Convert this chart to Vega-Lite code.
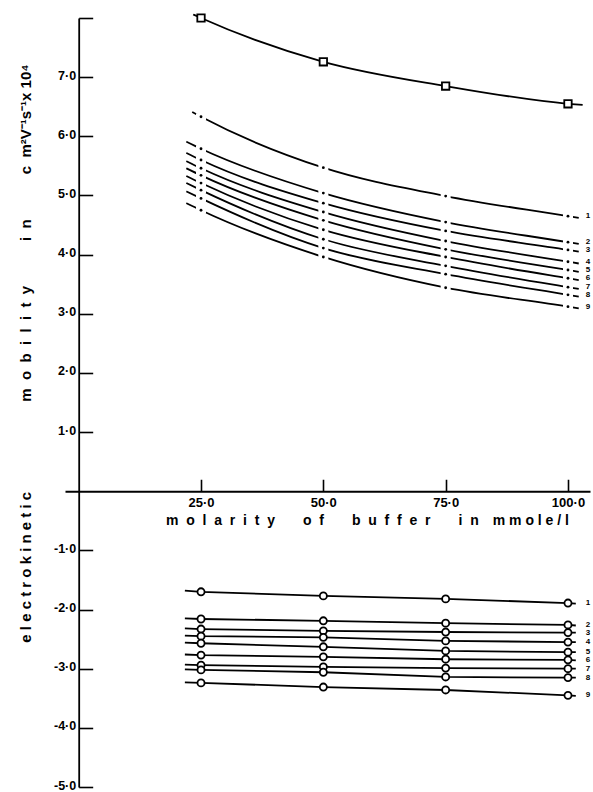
{
  "$schema": "https://vega.github.io/schema/vega-lite/v6.json",
  "width": 525,
  "height": 769,
  "autosize": {"type": "none"},
  "padding": {"left": 65, "top": 18, "right": 3, "bottom": 5},
  "background": "white",
  "config": {"view": {"stroke": null}},
  "data": {"values": [
    {"s":"q","k":"q","x":23.4,"y":8.06,"m":false},
    {"s":"q","k":"q","x":25,"y":8.0,"m":true},
    {"s":"q","k":"q","x":50,"y":7.26,"m":true},
    {"s":"q","k":"q","x":75,"y":6.85,"m":true},
    {"s":"q","k":"q","x":100,"y":6.55,"m":true},
    {"s":"q","k":"q","x":103,"y":6.53,"m":false},

    {"s":"u1","k":"u","x":23.2,"y":6.41,"m":false},
    {"s":"u1","k":"u","x":25,"y":6.33,"m":true},
    {"s":"u1","k":"u","x":50,"y":5.47,"m":true},
    {"s":"u1","k":"u","x":75,"y":4.99,"m":true},
    {"s":"u1","k":"u","x":100,"y":4.65,"m":true,"lab":"1"},
    {"s":"u1","k":"u","x":102.2,"y":4.62,"m":false},
    {"s":"u2","k":"u","x":22,"y":5.91,"m":false},
    {"s":"u2","k":"u","x":25,"y":5.79,"m":true},
    {"s":"u2","k":"u","x":50,"y":5.04,"m":true},
    {"s":"u2","k":"u","x":75,"y":4.55,"m":true},
    {"s":"u2","k":"u","x":100,"y":4.21,"m":true,"lab":"2"},
    {"s":"u2","k":"u","x":102.2,"y":4.18,"m":false},
    {"s":"u3","k":"u","x":22,"y":5.72,"m":false},
    {"s":"u3","k":"u","x":25,"y":5.60,"m":true},
    {"s":"u3","k":"u","x":50,"y":4.87,"m":true},
    {"s":"u3","k":"u","x":75,"y":4.40,"m":true},
    {"s":"u3","k":"u","x":100,"y":4.08,"m":true,"lab":"3"},
    {"s":"u3","k":"u","x":102.2,"y":4.05,"m":false},
    {"s":"u4","k":"u","x":22,"y":5.58,"m":false},
    {"s":"u4","k":"u","x":25,"y":5.46,"m":true},
    {"s":"u4","k":"u","x":50,"y":4.72,"m":true},
    {"s":"u4","k":"u","x":75,"y":4.23,"m":true},
    {"s":"u4","k":"u","x":100,"y":3.88,"m":true,"lab":"4"},
    {"s":"u4","k":"u","x":102.2,"y":3.85,"m":false},
    {"s":"u5","k":"u","x":22,"y":5.46,"m":false},
    {"s":"u5","k":"u","x":25,"y":5.34,"m":true},
    {"s":"u5","k":"u","x":50,"y":4.58,"m":true},
    {"s":"u5","k":"u","x":75,"y":4.09,"m":true},
    {"s":"u5","k":"u","x":100,"y":3.74,"m":true,"lab":"5"},
    {"s":"u5","k":"u","x":102.2,"y":3.71,"m":false},
    {"s":"u6","k":"u","x":22,"y":5.33,"m":false},
    {"s":"u6","k":"u","x":25,"y":5.21,"m":true},
    {"s":"u6","k":"u","x":50,"y":4.42,"m":true},
    {"s":"u6","k":"u","x":75,"y":3.96,"m":true},
    {"s":"u6","k":"u","x":100,"y":3.60,"m":true,"lab":"6"},
    {"s":"u6","k":"u","x":102.2,"y":3.57,"m":false},
    {"s":"u7","k":"u","x":22,"y":5.21,"m":false},
    {"s":"u7","k":"u","x":25,"y":5.09,"m":true},
    {"s":"u7","k":"u","x":50,"y":4.26,"m":true},
    {"s":"u7","k":"u","x":75,"y":3.81,"m":true},
    {"s":"u7","k":"u","x":100,"y":3.45,"m":true,"lab":"7"},
    {"s":"u7","k":"u","x":102.2,"y":3.42,"m":false},
    {"s":"u8","k":"u","x":22,"y":5.07,"m":false},
    {"s":"u8","k":"u","x":25,"y":4.95,"m":true},
    {"s":"u8","k":"u","x":50,"y":4.11,"m":true},
    {"s":"u8","k":"u","x":75,"y":3.67,"m":true},
    {"s":"u8","k":"u","x":100,"y":3.32,"m":true,"lab":"8"},
    {"s":"u8","k":"u","x":102.2,"y":3.29,"m":false},
    {"s":"u9","k":"u","x":22,"y":4.87,"m":false},
    {"s":"u9","k":"u","x":25,"y":4.75,"m":true},
    {"s":"u9","k":"u","x":50,"y":3.96,"m":true},
    {"s":"u9","k":"u","x":75,"y":3.44,"m":true},
    {"s":"u9","k":"u","x":100,"y":3.12,"m":true,"lab":"9"},
    {"s":"u9","k":"u","x":102.2,"y":3.09,"m":false},

    {"s":"l1","k":"l","x":21.7,"y":-1.68,"m":false},
    {"s":"l1","k":"l","x":25,"y":-1.70,"m":true},
    {"s":"l1","k":"l","x":50,"y":-1.77,"m":true},
    {"s":"l1","k":"l","x":75,"y":-1.82,"m":true},
    {"s":"l1","k":"l","x":100,"y":-1.89,"m":true,"lab":"1"},
    {"s":"l1","k":"l","x":101.6,"y":-1.90,"m":false},
    {"s":"l2","k":"l","x":21.7,"y":-2.15,"m":false},
    {"s":"l2","k":"l","x":25,"y":-2.16,"m":true},
    {"s":"l2","k":"l","x":50,"y":-2.19,"m":true},
    {"s":"l2","k":"l","x":75,"y":-2.23,"m":true},
    {"s":"l2","k":"l","x":100,"y":-2.26,"m":true,"lab":"2"},
    {"s":"l2","k":"l","x":101.6,"y":-2.27,"m":false},
    {"s":"l3","k":"l","x":21.7,"y":-2.32,"m":false},
    {"s":"l3","k":"l","x":25,"y":-2.33,"m":true},
    {"s":"l3","k":"l","x":50,"y":-2.36,"m":true},
    {"s":"l3","k":"l","x":75,"y":-2.38,"m":true},
    {"s":"l3","k":"l","x":100,"y":-2.39,"m":true,"lab":"3"},
    {"s":"l3","k":"l","x":101.6,"y":-2.39,"m":false},
    {"s":"l4","k":"l","x":21.7,"y":-2.44,"m":false},
    {"s":"l4","k":"l","x":25,"y":-2.45,"m":true},
    {"s":"l4","k":"l","x":50,"y":-2.47,"m":true},
    {"s":"l4","k":"l","x":75,"y":-2.53,"m":true},
    {"s":"l4","k":"l","x":100,"y":-2.55,"m":true,"lab":"4"},
    {"s":"l4","k":"l","x":101.6,"y":-2.55,"m":false},
    {"s":"l5","k":"l","x":21.7,"y":-2.56,"m":false},
    {"s":"l5","k":"l","x":25,"y":-2.57,"m":true},
    {"s":"l5","k":"l","x":50,"y":-2.63,"m":true},
    {"s":"l5","k":"l","x":75,"y":-2.70,"m":true},
    {"s":"l5","k":"l","x":100,"y":-2.72,"m":true,"lab":"5"},
    {"s":"l5","k":"l","x":101.6,"y":-2.72,"m":false},
    {"s":"l6","k":"l","x":21.7,"y":-2.76,"m":false},
    {"s":"l6","k":"l","x":25,"y":-2.77,"m":true},
    {"s":"l6","k":"l","x":50,"y":-2.80,"m":true},
    {"s":"l6","k":"l","x":75,"y":-2.84,"m":true},
    {"s":"l6","k":"l","x":100,"y":-2.85,"m":true,"lab":"6"},
    {"s":"l6","k":"l","x":101.6,"y":-2.86,"m":false},
    {"s":"l7","k":"l","x":21.7,"y":-2.93,"m":false},
    {"s":"l7","k":"l","x":25,"y":-2.94,"m":true},
    {"s":"l7","k":"l","x":50,"y":-2.97,"m":true},
    {"s":"l7","k":"l","x":75,"y":-2.99,"m":true},
    {"s":"l7","k":"l","x":100,"y":-3.00,"m":true,"lab":"7"},
    {"s":"l7","k":"l","x":101.6,"y":-3.00,"m":false},
    {"s":"l8","k":"l","x":21.7,"y":-3.01,"m":false},
    {"s":"l8","k":"l","x":25,"y":-3.02,"m":true},
    {"s":"l8","k":"l","x":50,"y":-3.06,"m":true},
    {"s":"l8","k":"l","x":75,"y":-3.14,"m":true},
    {"s":"l8","k":"l","x":100,"y":-3.15,"m":true,"lab":"8"},
    {"s":"l8","k":"l","x":101.6,"y":-3.15,"m":false},
    {"s":"l9","k":"l","x":21.7,"y":-3.23,"m":false},
    {"s":"l9","k":"l","x":25,"y":-3.24,"m":true},
    {"s":"l9","k":"l","x":50,"y":-3.31,"m":true},
    {"s":"l9","k":"l","x":75,"y":-3.36,"m":true},
    {"s":"l9","k":"l","x":100,"y":-3.45,"m":true,"lab":"9"},
    {"s":"l9","k":"l","x":101.6,"y":-3.46,"m":false}
  ]},
  "encoding": {
    "x": {"field": "x", "type": "quantitative",
      "scale": {"domain": [-2.8, 104.5], "nice": false, "zero": false},
      "axis": {"orient": "bottom", "offset": -295.75, "values": [25, 50, 75, 100],
        "tickSize": -12, "tickWidth": 1.6, "tickColor": "black",
        "domainColor": "black", "domainWidth": 1.8,
        "labelExpr": "replace(format(datum.value,'.1f'),'.','·')",
        "labelFont": "Liberation Sans", "labelFontSize": 13, "labelFontWeight": "bold", "labelColor": "black",
        "labelPadding": 17, "labelFlush": false, "labelOverlap": false, "grid": false,
        "title": "m\u00a0 o\u00a0 l\u00a0 a\u00a0 r\u00a0 i\u00a0 t\u00a0 y\u2003\u2003o\u00a0 f\u2003\u2003b\u00a0 u\u00a0 f\u00a0 f\u00a0 e\u00a0 r\u2003\u2003i\u00a0 n\u2003m m o l e / l",
        "titleX": 302, "titleY": 29, "titleBaseline": "middle", "titleAlign": "center",
        "titleFont": "Liberation Sans", "titleFontSize": 14, "titleFontWeight": "bold", "titleColor": "black"}},
    "y": {"field": "y", "type": "quantitative",
      "scale": {"domain": [-5, 8], "nice": false, "zero": false},
      "axis": {"orient": "left", "offset": -13.7, "values": [-5, -4, -3, -2, -1, 1, 2, 3, 4, 5, 6, 7, 8],
        "tickSize": -14, "tickWidth": 1.6, "tickColor": "black",
        "domainColor": "black", "domainWidth": 1.8,
        "labelExpr": "datum.value == 8 ? '' : replace((datum.value < 0 ? '-' : '') + format(abs(datum.value), '.1f'), '.', '·')",
        "labelFont": "Liberation Sans", "labelFontSize": 12.5, "labelFontWeight": "bold", "labelColor": "black",
        "labelPadding": 17, "labelOffset": -2, "labelFlush": false, "labelOverlap": false, "grid": false,
        "title": "e l e c t r o k i n e t i c\u2003\u2003\u2003\u2003\u2003\u2003m\u00a0 o\u00a0 b\u00a0 i\u00a0 l\u00a0 i\u00a0 t\u00a0 y\u2003\u2003\u2003i\u00a0 n\u2003\u2003\u2003c\u00a0 m²V⁻¹s⁻¹x 10⁴",
        "titleX": -53, "titleY": 335, "titleAngle": -90, "titleAlign": "center", "titleBaseline": "middle",
        "titleFont": "Liberation Sans", "titleFontSize": 15, "titleFontWeight": "bold", "titleColor": "black"}},
    "detail": {"field": "s"}
  },
  "layer": [
    {"transform": [{"filter": "datum.k == 'q'"}],
     "mark": {"type": "line", "color": "black", "strokeWidth": 1.8, "interpolate": "monotone"}},
    {"transform": [{"filter": "datum.k == 'q' && datum.m"}],
     "mark": {"type": "point", "shape": "square", "size": 55, "filled": true, "fill": "white", "stroke": "black", "strokeWidth": 1.8, "opacity": 1}},
    {"transform": [{"filter": "datum.k == 'u'"}],
     "mark": {"type": "line", "color": "black", "strokeWidth": 1.8, "interpolate": "monotone"}},
    {"transform": [{"filter": "datum.k == 'u' && datum.m"}],
     "mark": {"type": "point", "shape": "M-1,-0.7H1V0.7H-1Z", "size": 100, "filled": true, "color": "white", "strokeWidth": 0, "opacity": 1}},
    {"transform": [{"filter": "datum.k == 'u' && datum.m"}],
     "mark": {"type": "circle", "size": 8, "color": "black", "opacity": 1}},
    {"transform": [{"filter": "datum.k == 'l'"}],
     "mark": {"type": "line", "color": "black", "strokeWidth": 1.8}},
    {"transform": [{"filter": "datum.k == 'l' && datum.m"}],
     "mark": {"type": "point", "shape": "circle", "size": 50, "filled": true, "fill": "white", "stroke": "black", "strokeWidth": 1.8, "opacity": 1}},
    {"transform": [{"filter": "datum.lab"}],
     "mark": {"type": "text", "dx": 20, "font": "Liberation Sans", "fontWeight": "bold", "fontSize": 8, "align": "center", "baseline": "middle", "color": "black"},
     "encoding": {"text": {"field": "lab"}}}
  ]
}
